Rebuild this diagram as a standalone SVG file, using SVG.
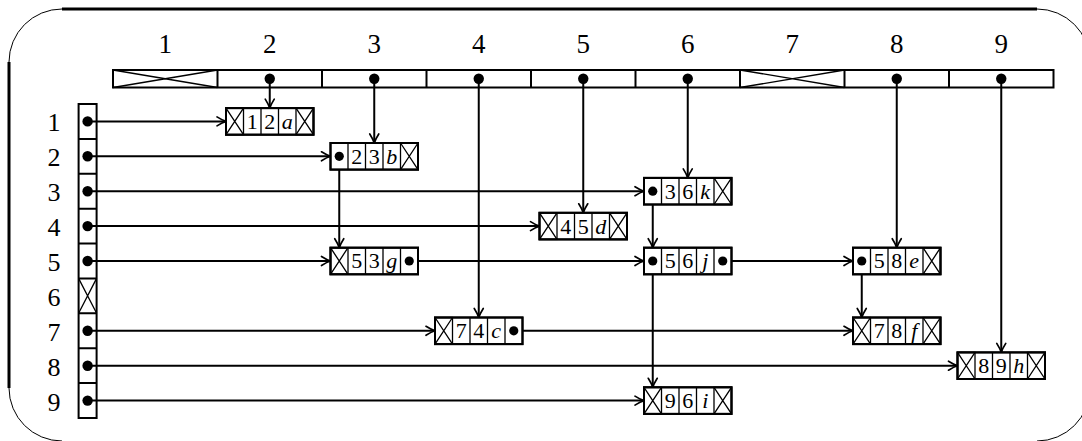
<svg xmlns="http://www.w3.org/2000/svg" width="1082" height="441" viewBox="0 0 1082 441" font-family="'Liberation Serif', 'Times New Roman', 'DejaVu Serif', serif">
<style>
.frame-thick{fill:none;stroke:#000;stroke-width:3}
.frame-thin{fill:none;stroke:#000;stroke-width:1}
.box{fill:#fff;stroke:#000;stroke-width:2}
.div{fill:none;stroke:#000;stroke-width:1.3}
.cross{fill:none;stroke:#000;stroke-width:1.3}
.conn{fill:none;stroke:#000;stroke-width:2;marker-end:url(#arr)}
.dot{fill:#000}
text{font-family:'Liberation Serif','Times New Roman','DejaVu Serif',serif;fill:#000;text-anchor:middle}
.lbl{font-size:27px}
.rl{font-size:26px}
.ct{font-size:22px}
.it{font-style:italic}
</style>
<defs>
<marker id="arr" markerUnits="userSpaceOnUse" markerWidth="20" markerHeight="20" refX="0" refY="0" orient="auto" viewBox="-10 -10 20 20" overflow="visible">
<path d="M-9,-4.5 C-5,-2 -2,-0.6 0,0 C-2,0.6 -5,2 -9,4.5" fill="none" stroke="#000" stroke-width="1.7" stroke-linecap="round" stroke-linejoin="round"/>
</marker>
<g id="crossCell"><rect class="div" x="0" y="0" width="17.5" height="26.6"/><path class="cross" d="M0,0 L17.5,26.6 M17.5,0 L0,26.6"/></g>
</defs>
<g id="frame">
<path class="frame-thick" d="M62,9 H1037 M9,62 V388"/>
<path class="frame-thin" d="M62,9 A53,53 0 0 0 9,62 M9,388 A53,53 0 0 0 62,441 M1037,9 A53,53 0 0 1 1090,62 M1090,388 A53,53 0 0 1 1037,441"/>
</g>
<g id="header">
<rect class="box" x="113" y="70" width="940.5" height="17.5"/>
<path class="box" d="M217.5,70 V87.5 M322,70 V87.5 M426.5,70 V87.5 M531,70 V87.5 M635.5,70 V87.5 M740,70 V87.5 M844.5,70 V87.5 M949,70 V87.5"/>
<path class="cross" d="M113,70 L217.5,87.5 M217.5,70 L113,87.5 M740,70 L844.5,87.5 M844.5,70 L740,87.5"/>
<circle class="dot" cx="269.75" cy="78.7" r="5.2"/>
<circle class="dot" cx="374.25" cy="78.7" r="5.2"/>
<circle class="dot" cx="478.75" cy="78.7" r="5.2"/>
<circle class="dot" cx="583.25" cy="78.7" r="5.2"/>
<circle class="dot" cx="687.75" cy="78.7" r="5.2"/>
<circle class="dot" cx="896.75" cy="78.7" r="5.2"/>
<circle class="dot" cx="1001.25" cy="78.7" r="5.2"/>
<text class="lbl" x="165.25" y="53">1</text>
<text class="lbl" x="269.75" y="53">2</text>
<text class="lbl" x="374.25" y="53">3</text>
<text class="lbl" x="478.75" y="53">4</text>
<text class="lbl" x="583.25" y="53">5</text>
<text class="lbl" x="687.75" y="53">6</text>
<text class="lbl" x="792.25" y="53">7</text>
<text class="lbl" x="896.75" y="53">8</text>
<text class="lbl" x="1001.25" y="53">9</text>
</g>
<g id="rows">
<rect class="box" x="78.6" y="104" width="18" height="314"/>
<path class="box" d="M78.6,138.9 H96.6 M78.6,173.8 H96.6 M78.6,208.7 H96.6 M78.6,243.6 H96.6 M78.6,278.4 H96.6 M78.6,313.3 H96.6 M78.6,348.2 H96.6 M78.6,383.1 H96.6"/>
<path class="cross" d="M78.6,278.4 L96.6,313.3 M96.6,278.4 L78.6,313.3"/>
<circle class="dot" cx="87.6" cy="121.4" r="5.2"/>
<circle class="dot" cx="87.6" cy="156.3" r="5.2"/>
<circle class="dot" cx="87.6" cy="191.2" r="5.2"/>
<circle class="dot" cx="87.6" cy="226.1" r="5.2"/>
<circle class="dot" cx="87.6" cy="261" r="5.2"/>
<circle class="dot" cx="87.6" cy="330.8" r="5.2"/>
<circle class="dot" cx="87.6" cy="365.7" r="5.2"/>
<circle class="dot" cx="87.6" cy="400.6" r="5.2"/>
<text class="rl" x="54" y="131">1</text>
<text class="rl" x="54" y="166">2</text>
<text class="rl" x="54" y="201">3</text>
<text class="rl" x="54" y="236">4</text>
<text class="rl" x="54" y="271">5</text>
<text class="rl" x="54" y="305.5">6</text>
<text class="rl" x="54" y="340.5">7</text>
<text class="rl" x="54" y="375.5">8</text>
<text class="rl" x="54" y="410.5">9</text>
</g>
<g id="connectors">
<path class="conn" d="M269.75,78.7 V108.1"/>
<path class="conn" d="M374.25,78.7 V143"/>
<path class="conn" d="M478.75,78.7 V317.5"/>
<path class="conn" d="M583.25,78.7 V212.8"/>
<path class="conn" d="M687.75,78.7 V177.9"/>
<path class="conn" d="M896.75,78.7 V247.7"/>
<path class="conn" d="M1001.25,78.7 V352.4"/>
<path class="conn" d="M339.25,156.3 V247.7"/>
<path class="conn" d="M652.75,191.2 V247.7"/>
<path class="conn" d="M652.75,261 V387.3"/>
<path class="conn" d="M861.75,261 V317.5"/>
<path class="conn" d="M87.6,121.4 H226"/>
<path class="conn" d="M87.6,156.3 H330.5"/>
<path class="conn" d="M87.6,191.2 H644"/>
<path class="conn" d="M87.6,226.1 H539.5"/>
<path class="conn" d="M87.6,261 H330.5"/>
<path class="conn" d="M87.6,330.8 H435"/>
<path class="conn" d="M87.6,365.7 H957.5"/>
<path class="conn" d="M87.6,400.6 H644"/>
<path class="conn" d="M409.25,261 H644"/>
<path class="conn" d="M722.75,261 H853"/>
<path class="conn" d="M513.75,330.8 H853"/>
</g>
<g id="n12a" transform="translate(226,108.1)">
<rect class="box" width="87.5" height="26.6"/><use href="#crossCell"/><use href="#crossCell" x="70"/>
<path class="div" d="M35,0 V26.6 M52.5,0 V26.6"/>
<text class="ct" x="26.25" y="20.8">1</text><text class="ct" x="43.75" y="20.8">2</text><text class="ct it" x="61.25" y="20.8">a</text>
<rect width="87.5" height="26.6" fill="none" stroke="#000" stroke-width="2"/>
</g>
<g id="n23b" transform="translate(330.5,143)">
<rect class="box" width="87.5" height="26.6"/><use href="#crossCell" x="70"/>
<path class="div" d="M17.5,0 V26.6 M35,0 V26.6 M52.5,0 V26.6"/>
<circle class="dot" cx="8.75" cy="13.3" r="4.6"/>
<text class="ct" x="26.25" y="20.8">2</text><text class="ct" x="43.75" y="20.8">3</text><text class="ct it" x="61.25" y="20.8">b</text>
<rect width="87.5" height="26.6" fill="none" stroke="#000" stroke-width="2"/>
</g>
<g id="n36k" transform="translate(644,177.9)">
<rect class="box" width="87.5" height="26.6"/><use href="#crossCell" x="70"/>
<path class="div" d="M17.5,0 V26.6 M35,0 V26.6 M52.5,0 V26.6"/>
<circle class="dot" cx="8.75" cy="13.3" r="4.6"/>
<text class="ct" x="26.25" y="20.8">3</text><text class="ct" x="43.75" y="20.8">6</text><text class="ct it" x="61.25" y="20.8">k</text>
<rect width="87.5" height="26.6" fill="none" stroke="#000" stroke-width="2"/>
</g>
<g id="n45d" transform="translate(539.5,212.8)">
<rect class="box" width="87.5" height="26.6"/><use href="#crossCell"/><use href="#crossCell" x="70"/>
<path class="div" d="M35,0 V26.6 M52.5,0 V26.6"/>
<text class="ct" x="26.25" y="20.8">4</text><text class="ct" x="43.75" y="20.8">5</text><text class="ct it" x="61.25" y="20.8">d</text>
<rect width="87.5" height="26.6" fill="none" stroke="#000" stroke-width="2"/>
</g>
<g id="n53g" transform="translate(330.5,247.7)">
<rect class="box" width="87.5" height="26.6"/><use href="#crossCell"/>
<path class="div" d="M35,0 V26.6 M52.5,0 V26.6 M70,0 V26.6"/>
<circle class="dot" cx="78.75" cy="13.3" r="4.6"/>
<text class="ct" x="26.25" y="20.8">5</text><text class="ct" x="43.75" y="20.8">3</text><text class="ct it" x="61.25" y="20.8">g</text>
<rect width="87.5" height="26.6" fill="none" stroke="#000" stroke-width="2"/>
</g>
<g id="n56j" transform="translate(644,247.7)">
<rect class="box" width="87.5" height="26.6"/>
<path class="div" d="M17.5,0 V26.6 M35,0 V26.6 M52.5,0 V26.6 M70,0 V26.6"/>
<circle class="dot" cx="8.75" cy="13.3" r="4.6"/><circle class="dot" cx="78.75" cy="13.3" r="4.6"/>
<text class="ct" x="26.25" y="20.8">5</text><text class="ct" x="43.75" y="20.8">6</text><text class="ct it" x="61.25" y="20.8">j</text>
<rect width="87.5" height="26.6" fill="none" stroke="#000" stroke-width="2"/>
</g>
<g id="n58e" transform="translate(853,247.7)">
<rect class="box" width="87.5" height="26.6"/><use href="#crossCell" x="70"/>
<path class="div" d="M17.5,0 V26.6 M35,0 V26.6 M52.5,0 V26.6"/>
<circle class="dot" cx="8.75" cy="13.3" r="4.6"/>
<text class="ct" x="26.25" y="20.8">5</text><text class="ct" x="43.75" y="20.8">8</text><text class="ct it" x="61.25" y="20.8">e</text>
<rect width="87.5" height="26.6" fill="none" stroke="#000" stroke-width="2"/>
</g>
<g id="n74c" transform="translate(435,317.5)">
<rect class="box" width="87.5" height="26.6"/><use href="#crossCell"/>
<path class="div" d="M35,0 V26.6 M52.5,0 V26.6 M70,0 V26.6"/>
<circle class="dot" cx="78.75" cy="13.3" r="4.6"/>
<text class="ct" x="26.25" y="20.8">7</text><text class="ct" x="43.75" y="20.8">4</text><text class="ct it" x="61.25" y="20.8">c</text>
<rect width="87.5" height="26.6" fill="none" stroke="#000" stroke-width="2"/>
</g>
<g id="n78f" transform="translate(853,317.5)">
<rect class="box" width="87.5" height="26.6"/><use href="#crossCell"/><use href="#crossCell" x="70"/>
<path class="div" d="M35,0 V26.6 M52.5,0 V26.6"/>
<text class="ct" x="26.25" y="20.8">7</text><text class="ct" x="43.75" y="20.8">8</text><text class="ct it" x="61.25" y="20.8">f</text>
<rect width="87.5" height="26.6" fill="none" stroke="#000" stroke-width="2"/>
</g>
<g id="n89h" transform="translate(957.5,352.4)">
<rect class="box" width="87.5" height="26.6"/><use href="#crossCell"/><use href="#crossCell" x="70"/>
<path class="div" d="M35,0 V26.6 M52.5,0 V26.6"/>
<text class="ct" x="26.25" y="20.8">8</text><text class="ct" x="43.75" y="20.8">9</text><text class="ct it" x="61.25" y="20.8">h</text>
<rect width="87.5" height="26.6" fill="none" stroke="#000" stroke-width="2"/>
</g>
<g id="n96i" transform="translate(644,387.3)">
<rect class="box" width="87.5" height="26.6"/><use href="#crossCell"/><use href="#crossCell" x="70"/>
<path class="div" d="M35,0 V26.6 M52.5,0 V26.6"/>
<text class="ct" x="26.25" y="20.8">9</text><text class="ct" x="43.75" y="20.8">6</text><text class="ct it" x="61.25" y="20.8">i</text>
<rect width="87.5" height="26.6" fill="none" stroke="#000" stroke-width="2"/>
</g>
</svg>
